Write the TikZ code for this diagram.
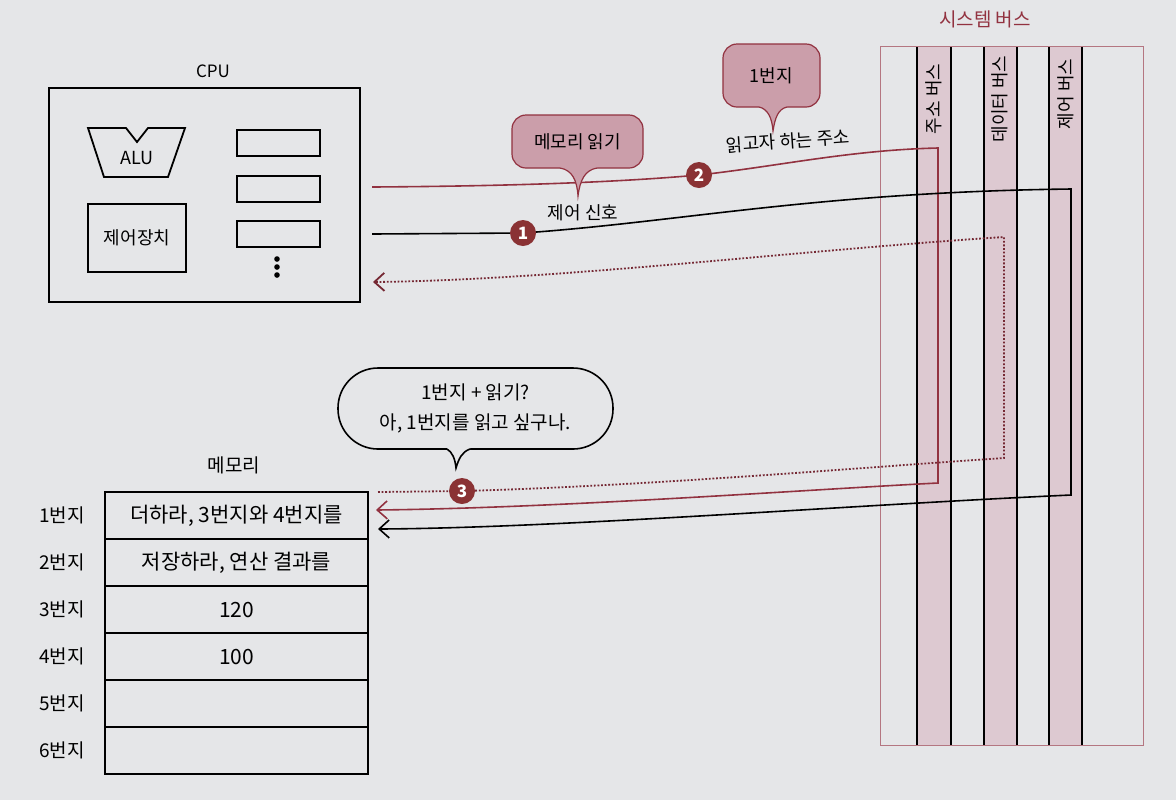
\documentclass[tikz,border=0pt]{standalone}
\usepackage{fontspec}
\setmainfont{Noto Sans CJK KR}
\usetikzlibrary{arrows.meta}

\definecolor{pagegray}{RGB}{229,230,232}
\definecolor{buspink}{RGB}{221,201,209}
\definecolor{bubblepink}{RGB}{203,158,170}
\definecolor{wine}{RGB}{146,50,64}
\definecolor{badgered}{RGB}{138,50,52}

\tikzset{
  unitbox/.style={draw, line width=0.9pt, inner sep=0pt},
  regbox/.style={unitbox, minimum width=41.5pt, minimum height=13pt},
  cellbox/.style={unitbox, minimum width=131.5pt, minimum height=23.5pt, font=\fontsize{10.5}{12}\selectfont},
  celllabel/.style={anchor=east, font=\fontsize{9.5}{11}\selectfont},
  numbadge/.style={circle, fill=badgered, text=white, inner sep=0pt, minimum size=13pt, font=\bfseries\fontsize{8.5}{9}\selectfont},
  talkbox/.style={draw=wine, fill=bubblepink, line width=0.6pt, rounded corners=7pt, inner sep=0pt, font=\fontsize{9}{11}\selectfont},
  busline/.style={line width=0.7pt},
  sigline/.style={line width=0.8pt, -{Straight Barb[length=5pt,width=9pt]}},
}

\begin{document}
\begin{tikzpicture}[x=0.5pt,y=0.5pt,yscale=-1,xscale=1,font=\fontsize{9}{11}\selectfont]
        % Page
        \fill[pagegray] (0,0) rectangle (1176,800);
        \useasboundingbox (0,0) rectangle (1176,800);

        %Shape: System bus strips
        \foreach \x in {917,984,1049} \fill[buspink] (\x,46) rectangle (\x+33,745);
        \foreach \x in {917,951,984,1017,1049,1082} \draw[busline] (\x,46) -- (\x,745);
        \draw[wine!55!buspink, line width=0.5pt] (880,46) rectangle (1143,745);
        % Text Node
        \node[text=wine, font=\fontsize{9.5}{11}\selectfont] (systitle) at (985,19) {시스템 버스};
        \node[rotate=90] (adrbus) at (934,99) {주소 버스};
        \node[rotate=90] (datbus) at (1000,99) {데이터 버스};
        \node[rotate=90] (ctlbus) at (1066,94) {제어 버스};

        %Shape: CPU
        \node (cpulabel) at (213,71) {\fontsize{8.5}{10}\selectfont CPU};
        \node[unitbox, minimum width=155.5pt, minimum height=107pt] (cpu) at (204.5,195) {};
        \draw[line width=0.9pt] (88,128) -- (126,128) -- (137,142) -- (148,128) -- (185,128) -- (168,177) -- (104,177) -- cycle;
        \node (alu) at (137,158) {ALU};
        \node[unitbox, minimum width=49pt, minimum height=34pt] (ctrlunit) at (137,238) {제어장치};
        \foreach \y [count=\i] in {143,189,234} \node[regbox] (reg\i) at (278.5,\y) {};
        \foreach \y in {259,267,275} \fill (277,\y) circle (1.4pt);

        %Shape: Memory
        \node[font=\fontsize{9.5}{11}\selectfont] (memlabel) at (234,465) {메모리};
        \foreach \t [count=\i] in {{더하라, 3번지와 4번지를},{저장하라, 연산 결과를},120,100,{},{}} {
          \node[cellbox] (cell\i) at (236.5,{468.5+47*\i}) {\t};
          \node[celllabel] (addr\i) at (92,{468.5+47*\i}) {{\i}번지};
        }

        %Straight Lines: address
        \coordinate (adrStart) at (372,187);
        \coordinate (p2) at (699,175);
        \coordinate (adrTop) at (938,148);
        \coordinate (adrBot) at (938,483);
        \coordinate (adrEnd) at (376,510);
        \draw[sigline, wine] (adrStart) .. controls (520,186) and (620,182) .. (p2) .. controls (780,166) and (850,150) .. (adrTop) -- (adrBot) .. controls (800,490) and (560,508) .. (adrEnd);

        %Straight Lines: control
        \coordinate (ctlStart) at (372,234);
        \coordinate (p1) at (523,233);
        \coordinate (ctlTop) at (1071,189);
        \coordinate (ctlBot) at (1071,495);
        \coordinate (ctlEnd) at (378,529);
        \draw[sigline] (ctlStart) -- (p1) .. controls (680,222) and (820,192) .. (ctlTop) -- (ctlBot) .. controls (850,505) and (560,528) .. (ctlEnd);

        %Straight Lines: data
        \coordinate (datStart) at (378,492);
        \coordinate (p3) at (462,491);
        \coordinate (datBot) at (1004,458);
        \coordinate (datTop) at (1004,237);
        \coordinate (datEnd) at (373,282);
        \draw[sigline, wine!80!black, line width=0.9pt, dash pattern=on 0.9pt off 0.9pt] (datStart) -- (p3) .. controls (650,486) and (880,466) .. (datBot) -- (datTop) .. controls (800,250) and (560,280) .. (datEnd);

        % Step badges
        \node[numbadge] (n1) at (p1) {1};
        \node[numbadge] (n2) at (p2) {2};
        \node[numbadge] (n3) at (p3) {3};

        % Text Node
        \node (ctltext) at (583,213) {제어 신호};
        \node[rotate=4] (adrtext) at (788,141) {읽고자 하는 주소};

        %Shape: Callouts
        \node[talkbox, minimum width=65.5pt, minimum height=26.5pt] (bubread) at (577.5,141.5) {메모리 읽기};
        \fill[bubblepink] (560,164) -- (560,168) .. controls (572,170) and (577,180) .. (578,196) .. controls (580,180) and (585,170) .. (597,168) -- (597,164) -- cycle;
        \draw[wine, line width=0.6pt] (560,168) .. controls (572,170) and (577,180) .. (578,196) .. controls (580,180) and (585,170) .. (597,168);

        \node[talkbox, minimum width=48.5pt, minimum height=31.5pt] (bubaddr) at (771.5,75.5) {1번지};
        \fill[bubblepink] (759,103) -- (759,107) .. controls (768,109) and (772,118) .. (773,131) .. controls (775,118) and (778,109) .. (787,107) -- (787,103) -- cycle;
        \draw[wine, line width=0.6pt] (759,107) .. controls (768,109) and (772,118) .. (773,131) .. controls (775,118) and (778,109) .. (787,107);

        \node[draw, fill=pagegray, line width=0.8pt, rounded corners=20pt, minimum width=137.5pt, minimum height=40.5pt, align=center, font=\fontsize{9.5}{15}\selectfont] (bubthink) at (475.5,408.5) {1번지 + 읽기?\\아, 1번지를 읽고 싶구나.};
        \fill[pagegray] (447,445) -- (447,449) .. controls (452,452) and (455,458) .. (456,468) .. controls (459,458) and (462,452) .. (470,449) -- (470,445) -- cycle;
        \draw[line width=0.8pt] (447,449) .. controls (452,452) and (455,458) .. (456,468) .. controls (459,458) and (462,452) .. (470,449);
\end{tikzpicture}
\end{document}
